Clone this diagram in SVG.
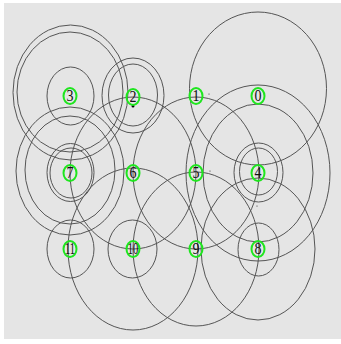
<svg xmlns="http://www.w3.org/2000/svg" width="341" height="344" viewBox="0 0 341 344">
<style>
.c{fill:none;stroke:#555;stroke-width:1}
.n{fill:none;stroke:#1ee61e;stroke-width:2}
.t{font-family:"Liberation Serif","Times New Roman",serif;font-size:14px;fill:#111;text-anchor:middle}
</style>
<rect width="341" height="344" fill="#fff"/>
<rect x="4" y="3" width="337" height="336" fill="#e5e5e5"/>
<g id="connectors">
<ellipse class="c" cx="70.5" cy="92.5" rx="57.5" ry="67.5"/>
<ellipse class="c" cx="70" cy="92" rx="53" ry="60"/>
<ellipse class="c" cx="70.5" cy="96" rx="23.5" ry="29"/>
<ellipse class="c" cx="133" cy="95.5" rx="31" ry="37.5"/>
<ellipse class="c" cx="133" cy="95" rx="24.5" ry="31"/>
<ellipse class="c" cx="258" cy="88.5" rx="68.5" ry="76.5"/>
<ellipse class="c" cx="70" cy="171" rx="54" ry="64"/>
<ellipse class="c" cx="70" cy="170" rx="45" ry="54"/>
<ellipse class="c" cx="70.5" cy="172.5" rx="23.5" ry="29"/>
<ellipse class="c" cx="71" cy="173" rx="21" ry="25"/>
<ellipse class="c" cx="133" cy="173" rx="63" ry="76"/>
<ellipse class="c" cx="196" cy="173" rx="63" ry="76"/>
<ellipse class="c" cx="258.5" cy="172.5" rx="24.5" ry="29.5"/>
<ellipse class="c" cx="258.5" cy="171.5" rx="19" ry="23.5"/>
<ellipse class="c" cx="258" cy="173" rx="72" ry="88"/>
<ellipse class="c" cx="258" cy="173" rx="55" ry="69"/>
<ellipse class="c" cx="70.5" cy="249" rx="23.5" ry="29"/>
<ellipse class="c" cx="132.5" cy="249" rx="24.5" ry="29"/>
<ellipse class="c" cx="258.5" cy="249.5" rx="20.5" ry="26.5"/>
<ellipse class="c" cx="133" cy="249" rx="65" ry="81"/>
<ellipse class="c" cx="196" cy="249" rx="63" ry="77"/>
<ellipse class="c" cx="258" cy="249" rx="57" ry="71"/>
<circle cx="133" cy="106" r="1.5" fill="#000"/>
<circle cx="209" cy="94" r="0.6" fill="#333"/>
<circle cx="210" cy="171" r="0.6" fill="#333"/>
<circle cx="257" cy="206" r="0.6" fill="#333"/>
</g>
<g id="n0"><ellipse class="n" cx="258" cy="96" rx="6.5" ry="8"/><text class="t" transform="translate(258,96) scale(1,1.2)" y="4.5">0</text></g>
<g id="n1"><ellipse class="n" cx="196" cy="96" rx="6.5" ry="8"/><text class="t" transform="translate(196,96) scale(1,1.2)" y="4.5">1</text></g>
<g id="n2"><ellipse class="n" cx="133" cy="97" rx="6.5" ry="8"/><text class="t" transform="translate(133,97) scale(1,1.2)" y="4.5">2</text></g>
<g id="n3"><ellipse class="n" cx="70" cy="96" rx="6.5" ry="8"/><text class="t" transform="translate(70,96) scale(1,1.2)" y="4.5">3</text></g>
<g id="n4"><ellipse class="n" cx="258" cy="173" rx="6.5" ry="8"/><text class="t" transform="translate(258,173) scale(1,1.2)" y="4.5">4</text></g>
<g id="n5"><ellipse class="n" cx="196" cy="173" rx="6.5" ry="8"/><text class="t" transform="translate(196,173) scale(1,1.2)" y="4.5">5</text></g>
<g id="n6"><ellipse class="n" cx="133" cy="173" rx="6.5" ry="8"/><text class="t" transform="translate(133,173) scale(1,1.2)" y="4.5">6</text></g>
<g id="n7"><ellipse class="n" cx="70" cy="173" rx="6.5" ry="8"/><text class="t" transform="translate(70,173) scale(1,1.2)" y="4.5">7</text></g>
<g id="n8"><ellipse class="n" cx="258" cy="249" rx="6.5" ry="8"/><text class="t" transform="translate(258,249) scale(1,1.2)" y="4.5">8</text></g>
<g id="n9"><ellipse class="n" cx="196" cy="249" rx="6.5" ry="8"/><text class="t" transform="translate(196,249) scale(1,1.2)" y="4.5">9</text></g>
<g id="n10"><ellipse class="n" cx="133" cy="249" rx="6.5" ry="8"/><text class="t" transform="translate(133,249) scale(0.75,1.2)" y="4.5">10</text></g>
<g id="n11"><ellipse class="n" cx="70" cy="249" rx="6.5" ry="8"/><text class="t" transform="translate(70,249) scale(0.75,1.2)" y="4.5">11</text></g>
</svg>
